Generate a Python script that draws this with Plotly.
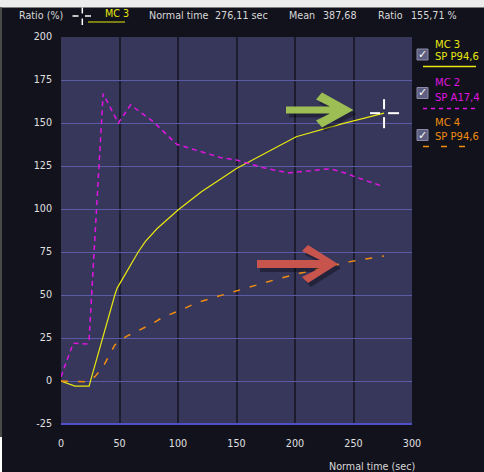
import plotly.graph_objects as go

# ---- data ----
mc3_x = [0, 12, 24, 26, 46, 48, 66, 72, 82, 100, 120, 150, 201, 240, 276.11]
mc3_y = [0, -3, -3, 2, 50, 54, 75, 81, 88.5, 99.4, 110, 123.6, 142, 149.5, 155.71]

mc2_x = [0, 10.5, 22, 24, 36, 49, 59.5, 79, 99, 113, 136, 150, 173, 194, 230, 244, 251, 274]
mc2_y = [2.5, 22, 21.5, 24, 167, 150, 160.5, 150.7, 137.6, 134.7, 130, 128.5, 124, 121, 123.4, 120.7, 118.8, 113.4]

mc4_x = [0, 23, 29, 36, 46, 56, 76, 87, 104, 116, 133, 149, 187, 204, 247, 276]
mc4_y = [0, -0.5, 2.5, 8.3, 21, 26, 32.6, 37, 41.7, 45.5, 49, 52.3, 59.7, 62.6, 69.4, 72.7]

x_ticks = [0, 50, 100, 150, 200, 250, 300]
y_ticks = [-25, 0, 25, 50, 75, 100, 125, 150, 175, 200]

legend_names = ["MC 3", "MC 2", "MC 4"]
legend_subs = ["SP P94,6", "SP A17,4", "SP P94,6"]
mean_value = 387.68

W, H = 484, 472
L, R, T, B = 61, 72, 37, 48
PW, PH = W - L - R, H - T - B

YEL = "#e8e810"
MAG = "#e014e0"
ORA = "#f08c10"
TXT = "#d8d8d8"
FONT = "DejaVu Sans"


def px(x):
    return (x - L) / PW


def py(y):
    return (H - B - y) / PH


def fmt(v):
    return f"{v:.2f}".replace(".", ",")


fig = go.Figure()
fig.add_trace(go.Scatter(x=mc3_x, y=mc3_y, mode="lines",
                         line=dict(color=YEL, width=1.2), showlegend=False))
fig.add_trace(go.Scatter(x=mc2_x, y=mc2_y, mode="lines",
                         line=dict(color=MAG, width=1.5, dash="5px,4px"), showlegend=False))
fig.add_trace(go.Scatter(x=mc4_x, y=mc4_y, mode="lines",
                         line=dict(color=ORA, width=1.5, dash="7px,10px"), showlegend=False))

shapes = []
ann = []

# top light strip and left border strip
shapes.append(dict(type="rect", xref="paper", yref="paper", x0=px(0), x1=px(W),
                   y0=py(7.5), y1=py(0), fillcolor="#ececec", line_width=0, layer="below"))
shapes.append(dict(type="rect", xref="paper", yref="paper", x0=px(0), x1=px(2),
                   y0=py(437), y1=py(7.5), fillcolor="#4a4a4a", line_width=0, layer="below"))
shapes.append(dict(type="rect", xref="paper", yref="paper", x0=px(0), x1=px(2),
                   y0=py(H), y1=py(437), fillcolor="#ffffff", line_width=0, layer="below"))

# header
ann.append(dict(text="Ratio (%)", x=px(17), y=py(16)))
for (a, b) in [(72.5, 78.5), (85, 91)]:
    shapes.append(dict(type="line", xref="paper", yref="paper", x0=px(a), x1=px(b),
                       y0=py(16), y1=py(16), line=dict(color="white", width=1.5)))
for (a, b) in [(7.5, 13.5), (18.5, 25)]:
    shapes.append(dict(type="line", xref="paper", yref="paper", x0=px(82.3), x1=px(82.3),
                       y0=py(a), y1=py(b), line=dict(color="white", width=1.5)))
shapes.append(dict(type="line", xref="paper", yref="paper", x0=px(88), x1=px(125),
                   y0=py(22), y1=py(22), line=dict(color=YEL, width=1)))
ann.append(dict(text="MC 3", x=px(103), y=py(14), color=YEL))
ann.append(dict(text="Normal time", x=px(147), y=py(16)))
ann.append(dict(text=f"{fmt(mc3_x[-1])} sec", x=px(213), y=py(16)))
ann.append(dict(text="Mean", x=px(287), y=py(16)))
ann.append(dict(text=fmt(mean_value), x=px(321), y=py(16)))
ann.append(dict(text="Ratio", x=px(376), y=py(16)))
ann.append(dict(text=f"{fmt(mc3_y[-1])} %", x=px(409), y=py(16)))

# x-axis title
ann.append(dict(text="Normal time (sec)", x=px(417), y=py(466), xanchor="right"))

# custom legend
leg = [
    (YEL, "solid", 44, 56.5, 66.5, 49),
    (MAG, "4px,4px", 83, 97.5, 108.5, 87.5),
    (ORA, "6px,12px", 122.5, 136.5, 146.5, 129.5),
]
for i, (col, dash, yname, ysub, yline, ybox) in enumerate(leg):
    ann.append(dict(text=legend_names[i], x=px(433), y=py(yname), color=col, size=10))
    ann.append(dict(text=legend_subs[i], x=px(433), y=py(ysub), color=col, size=10))
    shapes.append(dict(type="line", xref="paper", yref="paper", x0=px(423), x1=px(476),
                       y0=py(yline), y1=py(yline), line=dict(color=col, width=1.6, dash=dash)))
    shapes.append(dict(type="rect", xref="paper", yref="paper", x0=px(417), x1=px(428),
                       y0=py(ybox + 11), y1=py(ybox), fillcolor="#5e5e80",
                       line=dict(color="#8a8aa8", width=1)))
    ann.append(dict(text="✓", x=px(422.5), y=py(ybox + 5.5), color="white", size=11,
                    xanchor="center"))


# arrows (decorative), drawn as polygons in pixel space
def poly(points, dx=0, dy=0):
    d = "M " + " L ".join(f"{px(x + dx):.5f},{py(y + dy):.5f}" for x, y in points) + " Z"
    return d


green = [(286, 106.5), (330, 106.5), (316, 99.5), (322, 92.5), (353.5, 110),
         (322, 127.5), (316, 120.5), (330, 113.5), (286, 113.5)]
red = [(257, 260), (320, 260), (302, 251), (308, 245), (338, 264),
       (308, 283), (302, 277), (320, 268), (257, 268)]
for pts, col in [(green, "#9dbd55"), (red, "#c8544e")]:
    shapes.append(dict(type="path", xref="paper", yref="paper", path=poly(pts, 3, 4),
                       fillcolor="rgba(0,0,0,0.35)", line_width=0))
    shapes.append(dict(type="path", xref="paper", yref="paper", path=poly(pts),
                       fillcolor=col, line_width=0))

# crosshair at MC 3 end point
cx, cy = mc3_x[-1], mc3_y[-1]
for (a, b) in [(-14, -4), (4, 15)]:
    shapes.append(dict(type="line", xref="x", yref="y", xsizemode="pixel", ysizemode="pixel",
                       xanchor=cx, yanchor=cy, x0=a, x1=b, y0=0, y1=0,
                       line=dict(color="white", width=2)))
    shapes.append(dict(type="line", xref="x", yref="y", xsizemode="pixel", ysizemode="pixel",
                       xanchor=cx, yanchor=cy, x0=0, x1=0, y0=-b, y1=-a,
                       line=dict(color="white", width=2)))

annotations = []
for a in ann:
    annotations.append(dict(
        text=a["text"], x=a["x"], y=a["y"], xref="paper", yref="paper",
        xanchor=a.get("xanchor", "left"), yanchor="middle", showarrow=False,
        font=dict(family=FONT, size=a.get("size", 9.6), color=a.get("color", TXT)),
    ))

fig.update_layout(
    width=W, height=H,
    margin=dict(l=L, r=R, t=T, b=B, pad=0),
    paper_bgcolor="#12121c",
    plot_bgcolor="#37375c",
    showlegend=False,
    shapes=shapes,
    annotations=annotations,
    xaxis=dict(range=[0, 300], tickvals=x_ticks, ticktext=[str(v) for v in x_ticks],
               showgrid=True, gridcolor="#1c1c2e", gridwidth=1.5, zeroline=False,
               showline=False, ticks="", ticklabelstandoff=12,
               tickfont=dict(family=FONT, size=9.6, color="#e0e0e0"), fixedrange=True),
    yaxis=dict(range=[-25, 200], tickvals=y_ticks, ticktext=[str(v) for v in y_ticks],
               showgrid=True, gridcolor="#5a5aa6", gridwidth=1, zeroline=False,
               showline=False, ticks="", ticklabelstandoff=8,
               tickfont=dict(family=FONT, size=9.6, color="#e0e0e0"), fixedrange=True),
)
fig.add_shape(type="line", xref="paper", yref="paper", x0=0, x1=1, y0=0, y1=0,
              line=dict(color="#5050c8", width=2))

fig.write_html("out.html", config={"displayModeBar": False},
               post_script="document.body.style.margin='0px';document.body.style.overflow='hidden';")
